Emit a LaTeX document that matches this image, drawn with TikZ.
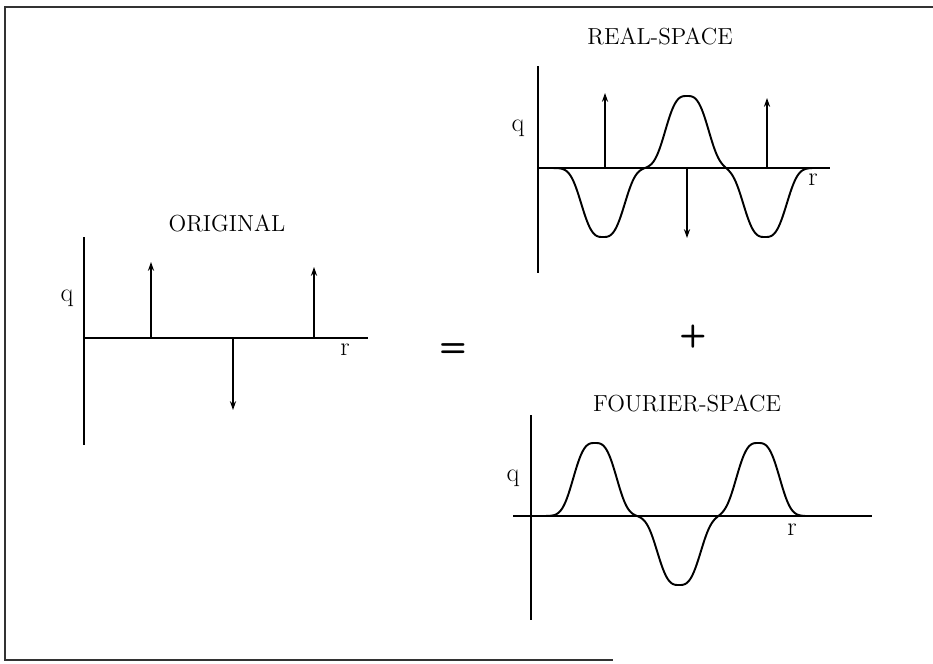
\documentclass[tikz,border=0pt]{standalone}
\usetikzlibrary{arrows.meta}
\tikzset{
  frameline/.style={draw=black!80, line width=0.8pt},
  axis/.style={line width=1.1pt},
  spike/.style={line width=0.8pt, -{Stealth[length=5pt,width=3.5pt]}},
  curve/.style={line width=1.1pt, smooth},
  title/.style={font=\fontsize{13.2}{15}\selectfont, inner sep=0pt},
  axlabel/.style={font=\fontsize{15}{17}\selectfont, inner sep=0pt},
  oper/.style={font=\fontsize{18}{20}\selectfont\sffamily\bfseries, inner sep=0pt},
  declare function={bump(\t)=exp(-(min(abs(\t),2.8))^3);}
}
\begin{document}
\begin{tikzpicture}[x=0.02cm, y=-0.02cm]
\useasboundingbox (0,0) rectangle (933,663);

% frame
\draw[frameline] (933,7) -- (5,7) -- (5,660) -- (613,660);

% ORIGINAL
\node (tOrig) [title] at (227,223) {ORIGINAL};
\coordinate (oOrig) at (84,338);
\draw[axis] (84,237) -- (84,445);
\draw[axis] (oOrig) -- (368,338);
\node (qOrig) [axlabel] at (67,298) {q};
\node (rOrig) [axlabel] at (345,350) {r};
\coordinate (sO1) at (151,338);
\coordinate (sO2) at (233,338);
\coordinate (sO3) at (314,338);
\draw[spike] (sO1) -- ++(0,-76);
\draw[spike] (sO2) -- ++(0,72);
\draw[spike] (sO3) -- ++(0,-71);

% equals and plus
\node (eq) [oper] at (453,350) {=};
\node (plus) [oper] at (693,337) {+};

% REAL-SPACE
\node (tReal) [title] at (660,36) {REAL-SPACE};
\coordinate (oReal) at (538,168);
\draw[axis] (538,66) -- (538,273);
\draw[axis] (oReal) -- (830,168);
\node (qReal) [axlabel] at (518,128) {q};
\node (rReal) [axlabel] at (813,180) {r};
\coordinate (sR1) at (605,168);
\coordinate (sR2) at (687,168);
\coordinate (sR3) at (767,168);
\draw[spike] (sR1) -- ++(0,-75);
\draw[spike] (sR2) -- ++(0,70);
\draw[spike] (sR3) -- ++(0,-70);
\draw[curve] plot[domain=545:812, samples=260]
  (\x, {168 + 69*bump((\x-603)/25) - 72*bump((\x-687)/25) + 69*bump((\x-765)/25)});

% FOURIER-SPACE
\node (tFour) [title] at (687,403) {FOURIER-SPACE};
\coordinate (oFour) at (531,516);
\draw[axis] (531,415) -- (531,620);
\draw[axis] (513,516) -- (872,516);
\node (qFour) [axlabel] at (513,478) {q};
\node (rFour) [axlabel] at (792,530) {r};
\draw[curve] plot[domain=538:805, samples=260]
  (\x, {516 - 73*bump((\x-595)/25) + 69*bump((\x-679)/25) - 73*bump((\x-758)/25)});
\end{tikzpicture}
\end{document}
